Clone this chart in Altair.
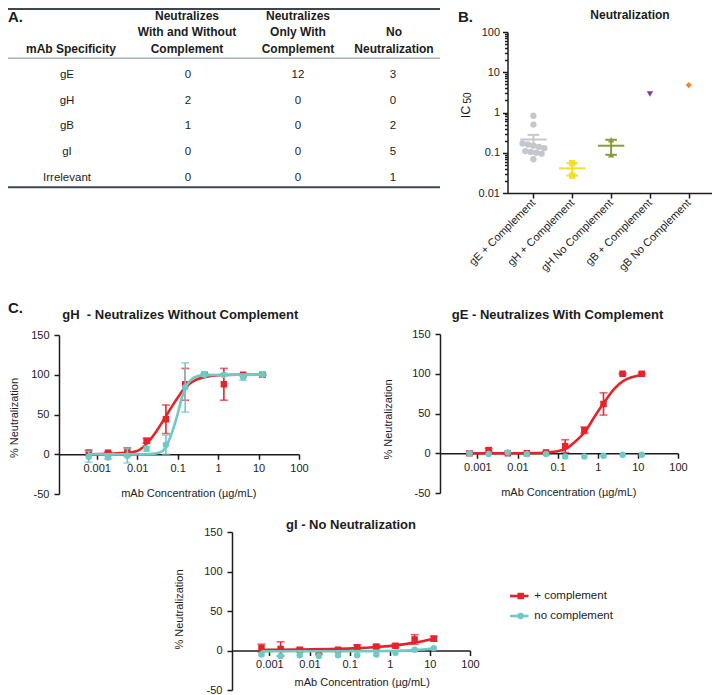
import json
import altair as alt
import pandas as pd

W, H = 704, 687
FONT = "Liberation Sans"
INK = "#1c1c1c"

# ---------------- A. table ----------------
table_rows = ["gE", "gH", "gB", "gI", "Irrelevant"]
n_with_and_without = [0, 2, 1, 0, 0]
n_only_with = [12, 0, 0, 0, 0]
n_no_neutralization = [3, 0, 2, 5, 1]
header_lines = [
    ["mAb Specificity"],
    ["Neutralizes", "With and Without", "Complement"],
    ["Neutralizes", "Only With", "Complement"],
    ["No", "Neutralization"],
]

# ---------------- B. IC50 ----------------
ic50_groups = ["gE + Complement", "gH + Complement", "gH No Complement",
               "gB + Complement", "gB No Complement"]
ic50_gE_plus = [0.83, 0.50, 0.17, 0.16, 0.15, 0.14, 0.13, 0.11, 0.105, 0.10, 0.095, 0.069]
ic50_gH_plus = [0.055, 0.027]
ic50_gH_none = [0.21, 0.089]
ic50_gB_plus = [2.9]
ic50_gB_none = [4.8]
ic50_colors = ["#c4c7cb", "#f2e11e", "#8c9a3c", "#7a3f98", "#f3892a"]
ic50_shapes = ["circle", "square", "triangle-up", "triangle-down", "diamond"]

# ---------------- C. dose response ----------------
series_names = ["+ complement", "no complement"]
series_colors = ["#e3242b", "#6fcac6"]
series_shapes = ["square", "circle"]
conc = [0.000635, 0.00191, 0.00572, 0.0171, 0.0514, 0.154, 0.463, 1.39, 4.17, 12.5]

gH_plus = [2, 2, 3, 17, 44, 88, 100, 88, 100, 100]
gH_plus_err = [3, 1, 5, 3, 18, 20, 1, 20, 1, 1]
gH_none = [-3, -4, -2, 7, 12, 84, 100, 100, 97, 100]
gH_none_err = [7, 2, 9, 3, 12, 31, 1, 1, 4, 1]
gH_plus_fit_x = [0.000635, 0.002, 0.006, 0.01, 0.017, 0.03, 0.05, 0.07, 0.1, 0.154, 0.28, 0.46, 1.0, 3.0, 12.5]
gH_plus_fit_y = [0, 0.5, 2, 4, 13, 29, 47, 59, 71, 84, 93.5, 97, 99.3, 100, 100]
gH_none_fit_x = [0.000635, 0.01, 0.02, 0.035, 0.05, 0.072, 0.097, 0.129, 0.16, 0.208, 0.28, 0.46, 1.4, 12.5]
gH_none_fit_y = [0, 0, 0.3, 2, 8, 27, 48, 72, 85, 93, 97.5, 99.5, 100, 100]

gE_plus = [0, 4, 0, 0, 1, 9, 29, 62, 100, 100]
gE_plus_err = [0, 2, 0, 0, 1, 8, 4, 14, 1, 1]
gE_none = [0, -1, 1, -1, -1, -4, -4, -3, -2, -2]
gE_none_err = [0, 0, 0, 0, 0, 0, 0, 0, 0, 0]
gE_plus_fit_x = [0.000635, 0.01, 0.03, 0.06, 0.1, 0.166, 0.28, 0.48, 0.81, 1.45, 2.57, 4.36, 7.5, 12.5]
gE_plus_fit_y = [0, 0, 0.3, 1, 2.5, 6, 15, 27, 45, 64, 81, 91, 96, 98.5]
gE_none_fit_x = []
gE_none_fit_y = []

gI_plus = [3, 2, 1, -2, 1, 4, 5, 6, 14, 15]
gI_plus_err = [5, 9, 2, 3, 1, 3, 2, 2, 6, 3]
gI_none = [-5, -7, -6, -7, -6, -6, -5, -3, 1, 3]
gI_none_err = [0, 0, 0, 0, 0, 0, 0, 0, 0, 0]
gI_plus_fit_x = [0.000635, 0.0057, 0.05, 0.154, 0.46, 1.39, 4.17, 12.5]
gI_plus_fit_y = [1, 1.2, 2, 3, 4.5, 6.5, 10, 15]
gI_none_fit_x = [0.000635, 0.05, 0.46, 1.39, 4.17, 12.5]
gI_none_fit_y = [-1, -1, -0.8, -0.3, 0.5, 2.5]

x_ticks = [0.001, 0.01, 0.1, 1, 10, 100]
y_ticks = [-50, 0, 50, 100, 150]
XMIN = 1.17e-4

one = pd.DataFrame({"k": [0]})


def label(text, x, y, size, bold=True, align="center", angle=0):
    kw = dict(text=text, fontSize=size, fontWeight="bold" if bold else "normal",
              align=align, baseline="middle", color=INK, font=FONT)
    if angle:
        kw["angle"] = angle
    return alt.Chart(one).mark_text(**kw).encode(x=alt.value(x), y=alt.value(y))


# ---------------- table ----------------
col_x_head = [63, 179, 290, 386]
col_x_body = [59, 180, 290, 385]
head_rows = []
for ci, lines in enumerate(header_lines):
    n = len(lines)
    for j, t in enumerate(lines):
        head_rows.append({"col": ci, "level": 3 - (n - 1 - j), "text": t})
head_df = pd.DataFrame(head_rows)
head_scale = alt.Scale(type="point", domain=[1, 2, 3], range=[7.5, 41], padding=0)
head_layers = [
    alt.Chart(head_df).transform_filter(alt.datum.col == ci)
    .mark_text(fontSize=12, fontWeight="bold", color=INK, font=FONT)
    .encode(x=alt.value(col_x_head[ci]),
            y=alt.Y("level:O", scale=head_scale, axis=None), text="text:N")
    for ci in range(4)
]
head_chart = alt.layer(*head_layers)

body_rows = []
for r, a, b, c in zip(table_rows, n_with_and_without, n_only_with, n_no_neutralization):
    for ci, t in enumerate([r, str(a), str(b), str(c)]):
        body_rows.append({"row": r, "col": ci, "text": t})
body_df = pd.DataFrame(body_rows)
body_scale = alt.Scale(type="point", domain=table_rows, range=[67, 169.6], padding=0)
body_layers = [
    alt.Chart(body_df).transform_filter(alt.datum.col == ci)
    .mark_text(fontSize=11.5, color=INK, font=FONT)
    .encode(x=alt.value(col_x_body[ci]),
            y=alt.Y("row:N", scale=body_scale, axis=None), text="text:N")
    for ci in range(4)
]
body_chart = alt.layer(*body_layers)

rules = alt.layer(
    alt.Chart(one).mark_rule(color="#3d4752", strokeWidth=2)
    .encode(x=alt.value(0), x2=alt.value(432), y=alt.value(1)),
    alt.Chart(one).mark_rule(color="#a9b2ba", strokeWidth=1.5)
    .encode(x=alt.value(0), x2=alt.value(432), y=alt.value(50.3)),
    alt.Chart(one).mark_rule(color="#3d4752", strokeWidth=2)
    .encode(x=alt.value(0), x2=alt.value(432), y=alt.value(179.3)),
)

# ---------------- panel B ----------------
b_rows = []
for g, vals in zip(ic50_groups, [ic50_gE_plus, ic50_gH_plus, ic50_gH_none, ic50_gB_plus, ic50_gB_none]):
    for v in vals:
        b_rows.append({"group": g, "ic50": v})
b_df = pd.DataFrame(b_rows)
idx_expr = "indexof(%s, datum.group)" % json.dumps(ic50_groups)

B_X0, B_Y0 = 499.5, 185
xsB = alt.Scale(domain=[-0.667, 4.597], range=[B_X0, 704], nice=False, zero=False)
ysB = alt.Scale(type="log", domain=[0.01, 100], range=[B_Y0, 24], nice=False)
colB = alt.Color("group:N", scale=alt.Scale(domain=ic50_groups, range=ic50_colors), legend=None)
shpB = alt.Shape("group:N", scale=alt.Scale(domain=ic50_groups, range=ic50_shapes), legend=None)
xaxisB = alt.Axis(orient="bottom", offset=B_Y0 - H, values=[0, 1, 2, 3, 4],
                  labelExpr="%s[datum.value]" % json.dumps(ic50_groups),
                  labelAngle=-45, labelAlign="right", labelBaseline="middle",
                  labelPadding=3, tickSize=5, title=None)
yaxisB = alt.Axis(orient="left", offset=-B_X0, values=[0.01, 0.1, 1, 10, 100],
                  format="~g", tickSize=5, labelPadding=3, title=None)

baseB = alt.Chart(b_df).transform_calculate(idx=idx_expr)
ptsB = (
    baseB.transform_calculate(band="floor((log(datum.ic50) / LN10 + 0.1) / 0.2)")
    .transform_window(rank="row_number()", groupby=["group", "band"],
                      sort=[alt.SortField("ic50", order="descending")])
    .transform_joinaggregate(n="count()", groupby=["group", "band"])
    .transform_calculate(xpos="datum.idx + (datum.rank - (datum.n + 1) / 2) * 0.14")
    .mark_point(filled=True, size=40, opacity=1)
    .encode(x=alt.X("xpos:Q", scale=xsB, axis=xaxisB),
            y=alt.Y("ic50:Q", scale=ysB, axis=yaxisB), color=colB, shape=shpB)
)
statB = (
    baseB.transform_aggregate(m="mean(ic50)", se="stderr(ic50)", k="count()", groupby=["group", "idx"])
    .transform_filter("datum.k > 1")
    .transform_calculate(lo="datum.m - datum.se", hi="datum.m + datum.se",
                         a1="datum.idx - 0.34", a2="datum.idx + 0.34",
                         c1="datum.idx - 0.15", c2="datum.idx + 0.15")
)
meanB = statB.mark_rule(strokeWidth=2).encode(
    x=alt.X("a1:Q", scale=xsB, axis=xaxisB), x2="a2:Q",
    y=alt.Y("m:Q", scale=ysB, axis=yaxisB), color=colB)
semB = statB.mark_rule(strokeWidth=2).encode(
    x=alt.X("idx:Q", scale=xsB, axis=xaxisB),
    y=alt.Y("lo:Q", scale=ysB, axis=yaxisB), y2="hi:Q", color=colB)
capHiB = statB.mark_rule(strokeWidth=2).encode(
    x=alt.X("c1:Q", scale=xsB, axis=xaxisB), x2="c2:Q",
    y=alt.Y("hi:Q", scale=ysB, axis=yaxisB), color=colB)
capLoB = statB.mark_rule(strokeWidth=2).encode(
    x=alt.X("c1:Q", scale=xsB, axis=xaxisB), x2="c2:Q",
    y=alt.Y("lo:Q", scale=ysB, axis=yaxisB), color=colB)
panelB = alt.layer(ptsB, meanB, semB, capHiB, capLoB)

minor_vals = [m * 10.0 ** e for e in (-2, -1, 0, 1) for m in range(2, 10)]
minorB = alt.Chart(pd.DataFrame({"v": minor_vals})).mark_point(opacity=0).encode(
    y=alt.Y("v:Q", scale=alt.Scale(type="log", domain=[0.01, 100], range=[B_Y0, 24], nice=False),
            axis=alt.Axis(orient="left", offset=-B_X0, values=minor_vals, labels=False,
                          domain=False, tickSize=3, title=None)))


# ---------------- panel C ----------------
def points_df(plus, plus_err, none, none_err):
    rows = []
    for name, vals, errs in zip(series_names, [plus, none], [plus_err, none_err]):
        for c, v, e in zip(conc, vals, errs):
            rows.append({"series": name, "conc": c, "pct": v, "err": e})
    return pd.DataFrame(rows)


def fits_df(px, py, nx, ny):
    rows = []
    for name, xs, ys in zip(series_names, [px, nx], [py, ny]):
        for c, v in zip(xs, ys):
            rows.append({"series": name, "conc": c, "pct": v})
    return pd.DataFrame(rows, columns=["series", "conc", "pct"])


def dose_panel(pdf, fdf, xr, yr, xtitle, ytitle):
    y0 = yr[0] + (yr[1] - yr[0]) * 0.25
    xs = alt.Scale(type="log", domain=[XMIN, 100], range=list(xr), nice=False)
    ys = alt.Scale(domain=[-50, 150], range=list(yr), nice=False, zero=False)
    x_axis = alt.Axis(orient="bottom", offset=y0 - H, values=x_ticks, format="~g",
                      title="mAb Concentration (µg/mL)", titleX=xtitle[0], titleY=xtitle[1] - y0,
                      titleBaseline="middle", titleAlign="center")
    y_axis = alt.Axis(orient="left", offset=-xr[0], values=y_ticks,
                      labelExpr="'' + datum.value",
                      title="% Neutralization", titleX=ytitle[0] - xr[0], titleY=ytitle[1],
                      titleAngle=270, titleBaseline="middle", titleAlign="center",
                      labelPadding=5)
    X = lambda f: alt.X(f + ":Q", scale=xs, axis=x_axis)
    Y = lambda f: alt.Y(f + ":Q", scale=ys, axis=y_axis)
    layers = []
    for s, color, shape in zip(series_names, series_colors, series_shapes):
        pts = alt.Chart(pdf).transform_filter(alt.datum.series == s)
        err = pts.transform_filter("datum.err > 0").transform_calculate(
            lo="datum.pct - datum.err", hi="datum.pct + datum.err")
        layers.append(err.mark_rule(color=color, strokeWidth=1.6).encode(
            x=X("conc"), y=Y("lo"), y2="hi:Q"))
        for end in ["lo", "hi"]:
            layers.append(err.mark_tick(color=color, orient="horizontal", size=8, thickness=1.6).encode(
                x=X("conc"), y=Y(end)))
        fit = alt.Chart(fdf).transform_filter(alt.datum.series == s)
        layers.append(fit.mark_line(color=color, strokeWidth=2.6, interpolate="monotone").encode(
            x=X("conc"), y=Y("pct")))
        layers.append(pts.mark_point(color=color, shape=shape, filled=True, size=42, opacity=1).encode(
            x=X("conc"), y=Y("pct")))
    return alt.layer(*layers)


panel_gH = dose_panel(points_df(gH_plus, gH_plus_err, gH_none, gH_none_err),
                      fits_df(gH_plus_fit_x, gH_plus_fit_y, gH_none_fit_x, gH_none_fit_y),
                      (51, 291), (486, 327), (180.3, 485), (6, 409.5))
panel_gE = dose_panel(points_df(gE_plus, gE_plus_err, gE_none, gE_none_err),
                      fits_df(gE_plus_fit_x, gE_plus_fit_y, gE_none_fit_x, gE_none_fit_y),
                      (432, 670), (485, 326), (560.3, 484.7), (380, 411))
panel_gI = dose_panel(points_df(gI_plus, gI_plus_err, gI_none, gI_none_err),
                      fits_df(gI_plus_fit_x, gI_plus_fit_y, gI_none_fit_x, gI_none_fit_y),
                      (224, 462), (682, 524), (353.7, 674.7), (171, 601))

# ---------------- legend ----------------
leg_df = pd.DataFrame({"series": series_names})
leg_y = alt.Y("series:N", scale=alt.Scale(type="point", domain=series_names, range=[588, 608], padding=0), axis=None)
leg_c = alt.Color("series:N", scale=alt.Scale(domain=series_names, range=series_colors), legend=None)
leg_s = alt.Shape("series:N", scale=alt.Scale(domain=series_names, range=series_shapes), legend=None)
legend = alt.layer(
    alt.Chart(leg_df).mark_rule(strokeWidth=2.6).encode(x=alt.value(502), x2=alt.value(520.5), y=leg_y, color=leg_c),
    alt.Chart(leg_df).mark_point(filled=True, size=42, opacity=1).encode(x=alt.value(512.7), y=leg_y, color=leg_c, shape=leg_s),
    alt.Chart(leg_df).mark_text(align="left", fontSize=11.5, color=INK, font=FONT).encode(
        x=alt.value(526.3), y=leg_y, text="series:N"),
)

# ---------------- texts ----------------
texts = alt.layer(
    label("A.", 0, 9, 15, align="left"),
    label("B.", 450, 9, 15, align="left"),
    label("C.", 0, 300, 15, align="left"),
    label("Neutralization", 622, 7, 12),
    label("IC", 458, 104, 12.5, bold=False, angle=270),
    label("50", 459.5, 90, 10, bold=False, angle=270),
    label("gH\u00a0 - Neutralizes Without Complement", 172.3, 306.5, 13),
    label("gE - Neutralizes With Complement", 549.5, 307, 13),
    label("gI - No Neutralization", 343, 517, 13),
)

chart = (
    alt.layer(rules, head_chart, body_chart, minorB, panelB, panel_gH, panel_gE, panel_gI, legend, texts)
    .resolve_scale(x="independent", y="independent", color="independent", shape="independent")
    .resolve_axis(x="independent", y="independent")
    .properties(width=W, height=H, autosize=alt.AutoSizeParams(type="none"), padding=0)
    .configure(font=FONT)
    .configure_view(stroke=None)
    .configure_axis(grid=False, labelFont=FONT, labelFontSize=11, labelColor=INK,
                    titleFont=FONT, titleFontSize=11, titleFontWeight="normal", titleColor=INK,
                    domainColor=INK, domainWidth=1.5, tickColor=INK, tickWidth=1.5,
                    tickSize=5, labelPadding=3, labelFlush=False, labelOverlap=False)
)

chart.save("out.html", embed_options={"renderer": "svg", "actions": False})
